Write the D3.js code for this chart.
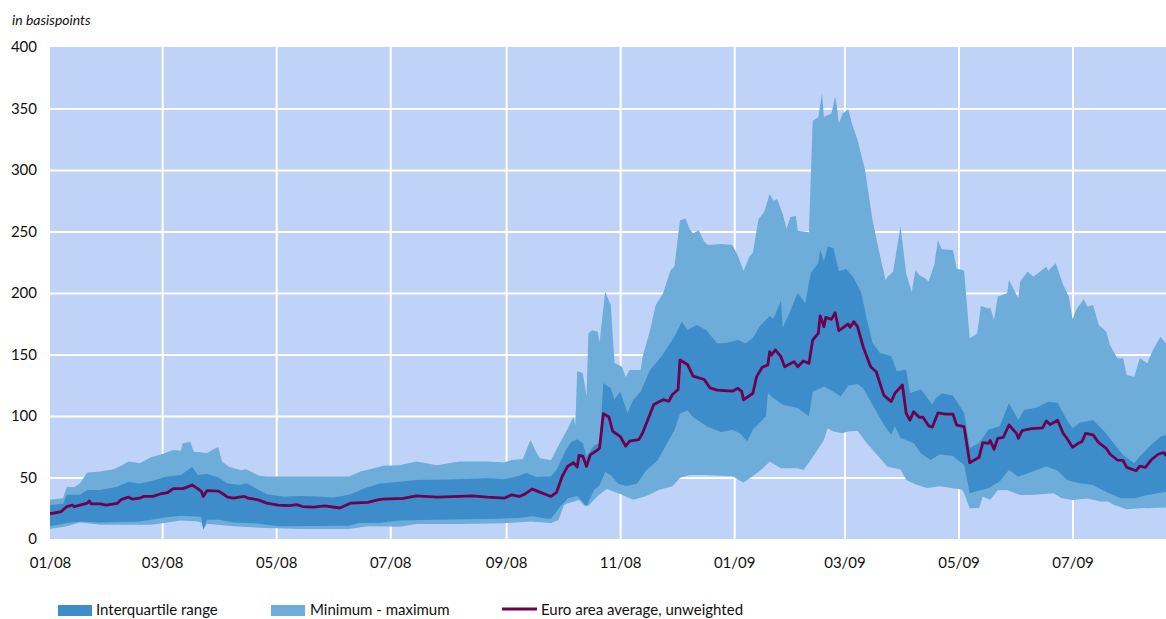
<!DOCTYPE html>
<html>
<head>
<meta charset="utf-8">
<script src="https://cdn.jsdelivr.net/npm/d3@7"></script>
<style>
  html, body { margin: 0; padding: 0; background: #fff; }
  svg { display: block; font-family: Lato, "Open Sans", sans-serif; }
</style>
</head>
<body>
<svg id="chart" width="1166" height="619"></svg>
<script>
// ---- data: [days since 2008-01-01, basis points] ----
const tickMonths = ["2008-01","2008-03","2008-05","2008-07","2008-09","2008-11","2009-01","2009-03","2009-05","2009-07"];
const yTicks = [0, 50, 100, 150, 200, 250, 300, 350, 400];
const legendLabels = ["Interquartile range", "Minimum - maximum", "Euro area average, unweighted"];

const avgSeries = [[0,20.5],[6,22.3],[9,26.4],[12,27.6],[13,26.4],[20,29.2],[21,31],[22,28.6],[27,28.6],[30,27.6],[36,29],[38,32],[42,34],[44,32.5],[48,33.2],[50,34.6],[55,34.6],[59,36.6],[63,37.8],[66,41],[71,41],[73,42],[76,43.9],[79,41],[81,38.6],[82,34.6],[84,39.4],[90,39],[92,37.2],[95,34],[98,33.2],[104,34.6],[106,33.2],[111,32],[116,29.2],[122,27.5],[128,27.1],[132,28],[135,26.4],[141,25.9],[147,27],[155,25.2],[161,29.2],[170,29.7],[176,32],[178,32.5],[189,33.1],[196,35],[207,34],[219,34.6],[226,35],[234,34],[243,33.2],[247,35.9],[251,34.6],[254,36.5],[258,40.7],[261,38.7],[268,34.6],[271,38],[274,51],[277,59.2],[280,62],[282,58.6],[283,67.9],[285,67.4],[287,59],[289,68.4],[293,72.5],[294,74],[296,101.9],[299,99.2],[301,87.6],[305,83.5],[308,75.4],[310,79.5],[315,80.8],[317,86.2],[323,109.3],[328,113.3],[331,112],[333,117.5],[336,121.5],[337,145.5],[341,141.9],[344,132.4],[350,129.7],[353,122.9],[357,121],[365,120.2],[368,122.5],[370,120],[371,113.1],[376,118.5],[378,132],[381,139.6],[384,141.5],[385,152.3],[386,149.6],[388,153.7],[391,148.2],[393,140],[398,144.2],[400,140],[403,144.7],[406,142.8],[408,161.8],[411,167.2],[412,181.3],[414,172.6],[415,180.2],[418,178.6],[420,184],[422,169.4],[427,174.8],[428,172.1],[430,176.7],[432,172.6],[435,156.3],[439,140],[442,136],[446,117],[450,111.7],[452,118.5],[456,125.2],[458,102.2],[460,96.7],[462,103.5],[465,98.9],[467,99],[470,92],[472,91],[475,102.5],[479,101.6],[483,101.6],[485,92.6],[489,91.3],[492,62],[497,66.4],[499,78.3],[502,77.8],[503,80],[505,73],[507,81.9],[510,82.7],[513,92.7],[517,85.9],[518,81.9],[520,88.1],[525,89.7],[531,90.3],[533,96],[535,93],[539,96.5],[542,85.9],[544,81.9],[547,74.5],[550,77.8],[552,79.1],[554,85.9],[558,84.6],[561,78.3],[565,73.7],[567,69.1],[571,64.2],[574,64],[576,58.2],[581,55.5],[583,59.3],[586,58.2],[589,64.2],[593,69.1],[596,70.2],[597,67.5]];

const maxSeries = [[0,32],[7,33.2],[9,42.5],[13,42],[16,45.2],[20,54],[27,54.8],[34,56.8],[38,59.5],[42,63],[48,61.6],[54,66.5],[59,68.4],[66,72.4],[70,71.8],[71,77.8],[75,79],[77,70.8],[79,70.8],[84,70],[87,72.6],[90,74.8],[92,63],[96,58.5],[102,55.8],[105,56.8],[109,53.6],[112,51.4],[116,50.9],[160,50.9],[166,54.8],[170,56.3],[176,58.5],[178,59.5],[187,60],[196,63],[207,60],[219,63],[234,63],[243,62.2],[247,64.3],[253,65],[257,80.5],[260,71],[262,65.6],[268,64],[271,72.9],[277,89.9],[280,99.3],[281,92],[282,136.4],[285,135],[287,116],[288,167],[290,169.8],[293,168.5],[294,160],[297,201],[300,190],[302,143],[306,140],[308,131.5],[310,137.4],[316,137.4],[317,148],[321,169.8],[324,190],[328,199.7],[332,218.7],[334,221.4],[337,259],[340,260.6],[342,252.5],[344,248.4],[347,251],[350,241.7],[352,239],[359,239.8],[365,239],[368,230.3],[371,218],[374,229],[376,233],[379,260],[382,265.7],[385,280.5],[387,275],[389,276.4],[392,264.2],[394,252],[396,261.5],[399,262.8],[400,250.6],[406,249.3],[408,340],[411,342.8],[413,362.3],[414,343.3],[418,346],[420,359.6],[421,351.5],[422,337.9],[424,346],[427,349.3],[429,337.9],[432,324.4],[436,300],[440,259.3],[443,237.5],[447,210.4],[448,213],[451,217.2],[455,254.5],[458,215.7],[461,200.8],[463,218.6],[465,214.6],[468,212],[470,209.3],[473,222.8],[475,243.1],[477,235.5],[483,235],[485,220],[489,218],[492,163.1],[496,167.2],[498,189.4],[502,187.5],[503,188],[505,178.1],[507,197.1],[512,199.7],[513,210.6],[518,195.7],[519,209.3],[523,217.4],[526,213.3],[533,221.4],[534,218],[538,224.1],[542,206.6],[545,197.1],[547,178.7],[549,186.3],[553,194.9],[555,188.9],[558,190.3],[561,174],[565,168.6],[567,157.7],[571,146.9],[574,146.9],[576,133.3],[580,132],[583,146.9],[587,142.8],[590,153.7],[594,164.5],[597,159]];

const q3Series = [[0,27.6],[7,28.5],[9,36],[16,36],[20,39.8],[27,39.8],[36,42.5],[42,46.6],[48,45],[55,47.4],[62,50.7],[70,52.1],[76,58.5],[79,52],[84,52.8],[90,50.1],[95,45.2],[102,43.9],[105,45.5],[111,40.4],[116,36.3],[125,34.3],[134,35],[143,34.5],[151,33.8],[155,34.5],[161,36.3],[166,39.8],[170,42],[176,45],[180,45.5],[196,47.9],[214,48.4],[234,49.3],[243,48.5],[251,51.5],[255,53.7],[260,50.5],[268,50.9],[271,56.3],[276,72.4],[279,79.1],[282,80.9],[285,78],[287,66.8],[291,76],[294,78],[296,126.6],[300,122.5],[302,113.3],[305,120],[309,102.4],[312,113.3],[316,120],[321,137.4],[327,148.2],[334,164.5],[338,176.7],[341,170],[346,174],[351,170],[357,159],[362,159.6],[365,160.5],[368,162],[372,159],[376,163.5],[380,173.6],[385,181.3],[387,179],[391,193.6],[392,172],[395,181.8],[400,200.2],[404,191.4],[407,216.3],[411,224.4],[412,235.2],[414,225.7],[416,237.9],[419,236.6],[422,217.6],[426,219.5],[430,212.2],[434,200],[437,178.3],[440,159.4],[444,151.3],[450,148.5],[453,136.3],[458,137.7],[460,118.7],[466,121.5],[470,113.3],[472,109.3],[474,114.7],[477,118.2],[483,116.6],[489,102.5],[492,74],[497,78],[502,88.9],[508,91.6],[513,110.3],[518,96.7],[521,104.8],[528,107],[534,111.6],[539,110.8],[544,96.7],[547,90],[551,94.6],[558,96.7],[564,87.3],[569,77.8],[574,68.3],[580,61.5],[583,67],[589,76.4],[594,83.2],[597,84.6]];

const q1Series = [[0,10.3],[9,13],[16,14.3],[27,13.5],[36,13.8],[48,14.3],[54,15.7],[63,17.9],[70,19],[80,18],[81,17.5],[82,7.8],[84,15.7],[90,15.7],[98,13.5],[112,12.5],[122,10.3],[160,10.8],[165,13],[176,13],[187,15],[207,15.7],[240,16.5],[251,17.1],[258,18.4],[265,16.7],[268,16.5],[273,26.4],[277,33],[282,34.9],[285,30.3],[287,26.4],[291,39.6],[294,43.7],[297,54.5],[300,51.8],[304,45],[308,43],[314,45],[319,55.8],[325,64],[330,77.5],[334,88.3],[337,101.9],[341,104.6],[344,99.2],[352,91],[359,87],[365,88.9],[369,86.2],[373,79.4],[376,88.9],[383,99.9],[384,118.7],[387,114.6],[392,109.2],[400,106.5],[406,99.7],[408,119.8],[414,123.9],[419,120],[423,115.9],[427,124.5],[432,126.1],[435,122.6],[440,109.2],[446,93],[450,84.8],[452,91.6],[455,82.1],[462,78],[466,69.6],[471,64.2],[476,69],[483,67.5],[489,60.2],[492,37.2],[498,39.9],[502,41.2],[508,46.7],[513,56.2],[518,50.7],[523,53.5],[533,58.9],[539,55.6],[544,48],[551,45.3],[558,43.9],[566,37.7],[573,33.1],[580,33.1],[587,35.8],[597,38.5]];

const minSeries = [[0,8.1],[9,10.3],[16,13.5],[27,11.6],[54,11.6],[63,13.5],[70,15],[79,14.3],[81,13.5],[82,7.8],[84,12.5],[98,10.3],[116,8.9],[134,8.1],[160,8.1],[170,10.3],[187,10],[196,12.2],[220,12.2],[243,12.8],[257,14.3],[268,13],[272,15.4],[275,27.6],[277,29],[280,30.3],[283,31.7],[286,27],[288,27],[293,35],[296,38.7],[298,40.7],[305,36.6],[312,31.9],[319,35],[326,40],[333,42.8],[337,49.5],[342,52],[350,52],[365,51],[371,46],[375,50],[381,57],[385,63],[391,57.5],[400,57.5],[403,56],[407,64.2],[414,80.5],[416,90],[419,87.3],[424,85.9],[427,87.5],[432,88],[437,77.8],[443,67.5],[448,58.8],[455,56.6],[458,48],[464,44],[469,41.4],[476,42.8],[483,41.2],[488,40],[489,37.2],[492,24.9],[497,25.2],[499,34.4],[503,32],[507,39.7],[512,39.9],[519,35.7],[525,35.8],[537,37.2],[541,33.3],[547,31.7],[555,33],[562,30.5],[566,30.4],[569,27.9],[576,24.1],[585,25.2],[587,24.9],[597,25.7]];

// ---- layout & styles ----
const W = 1166, H = 619;
const plot = { left: 50, right: 1166, top: 47, bottom: 539 };
const C = { bg: "#bfd2f8", minmax: "#6eacd9", iqr: "#3c8dca", line: "#6e0050", grid: "#ffffff", text: "#111" };
const FS = 15;

const t0 = new Date(2008, 0, 1);
const toDate = d => d3.timeDay.offset(t0, d);
const x = d3.scaleTime().domain([t0, new Date(2009, 7, 20)]).range([plot.left, plot.right]);
const y = d3.scaleLinear().domain([0, 400]).range([plot.bottom, plot.top]);

const svg = d3.select("#chart");
const defs = svg.append("defs");
defs.append("clipPath").attr("id", "plotClip").append("rect")
  .attr("x", plot.left).attr("y", plot.top)
  .attr("width", plot.right - plot.left).attr("height", plot.bottom - plot.top);

const parseMonth = d3.timeParse("%Y-%m");
const tickDates = tickMonths.map(parseMonth);

// background
svg.append("rect").attr("x", plot.left).attr("y", plot.top)
  .attr("width", plot.right - plot.left).attr("height", plot.bottom - plot.top)
  .attr("fill", C.bg);

function drawGrid(g) {
  g.append("g").attr("transform", `translate(0,${plot.bottom})`)
    .call(d3.axisBottom(x).tickValues(tickDates.slice(1)).tickSize(-(plot.bottom - plot.top)).tickFormat(""))
    .call(s => s.select(".domain").remove())
    .call(s => s.selectAll("line").attr("stroke", C.grid).attr("stroke-width", 2));
  g.append("g").attr("transform", `translate(${plot.left},0)`)
    .call(d3.axisLeft(y).tickValues(yTicks.filter(v => v > 0 && v < 400)).tickSize(-(plot.right - plot.left)).tickFormat(""))
    .call(s => s.select(".domain").remove())
    .call(s => s.selectAll("line").attr("stroke", C.grid).attr("stroke-width", 2));
}

drawGrid(svg.append("g"));

const areaTo0 = d3.area().x(d => x(toDate(d[0]))).y0(y(0)).y1(d => y(d[1]));
const plotG = svg.append("g").attr("clip-path", "url(#plotClip)");
plotG.append("path").datum(maxSeries).attr("d", areaTo0).attr("fill", C.minmax);
plotG.append("path").datum(q3Series).attr("d", areaTo0).attr("fill", C.iqr);
plotG.append("path").datum(q1Series).attr("d", areaTo0).attr("fill", C.minmax);
plotG.append("path").datum(minSeries).attr("d", areaTo0).attr("fill", C.bg);

// grid visible again below the minimum
defs.append("clipPath").attr("id", "minClip").append("path").datum(minSeries).attr("d", areaTo0);
drawGrid(plotG.append("g").attr("clip-path", "url(#minClip)"));

// average line
plotG.append("path").datum(avgSeries)
  .attr("d", d3.line().x(d => x(toDate(d[0]))).y(d => y(d[1])))
  .attr("fill", "none").attr("stroke", C.line).attr("stroke-width", 2.8).attr("stroke-linejoin", "round");

// axes labels
svg.append("g").attr("transform", `translate(0,${plot.bottom})`)
  .call(d3.axisBottom(x).tickValues(tickDates).tickSize(0).tickPadding(18).tickFormat(d3.timeFormat("%m/%y")))
  .call(s => s.select(".domain").remove())
  .call(s => s.selectAll("text").attr("font-size", FS).attr("fill", C.text).attr("font-family", "Lato, sans-serif"));

svg.append("g").attr("transform", `translate(${plot.left},0)`)
  .call(d3.axisLeft(y).tickValues(yTicks).tickSize(0).tickPadding(13))
  .call(s => s.select(".domain").remove())
  .call(s => s.selectAll("text").attr("font-size", FS).attr("fill", C.text).attr("font-family", "Lato, sans-serif"));

svg.append("text").attr("x", 12).attr("y", 25).attr("font-size", 14).attr("font-style", "italic")
  .attr("fill", C.text).text("in basispoints");

// legend
const lg = svg.append("g");
lg.append("rect").attr("x", 58).attr("y", 605).attr("width", 34).attr("height", 11).attr("fill", C.iqr);
lg.append("text").attr("x", 96).attr("y", 615).attr("font-size", FS).attr("fill", C.text).text(legendLabels[0]);
lg.append("rect").attr("x", 271).attr("y", 605).attr("width", 34).attr("height", 11).attr("fill", C.minmax);
lg.append("text").attr("x", 310).attr("y", 615).attr("font-size", FS).attr("fill", C.text).text(legendLabels[1]);
lg.append("line").attr("x1", 502).attr("x2", 537).attr("y1", 609).attr("y2", 609)
  .attr("stroke", C.line).attr("stroke-width", 3);
lg.append("text").attr("x", 541).attr("y", 615).attr("font-size", FS).attr("fill", C.text).text(legendLabels[2]);
</script>
</body>
</html>
